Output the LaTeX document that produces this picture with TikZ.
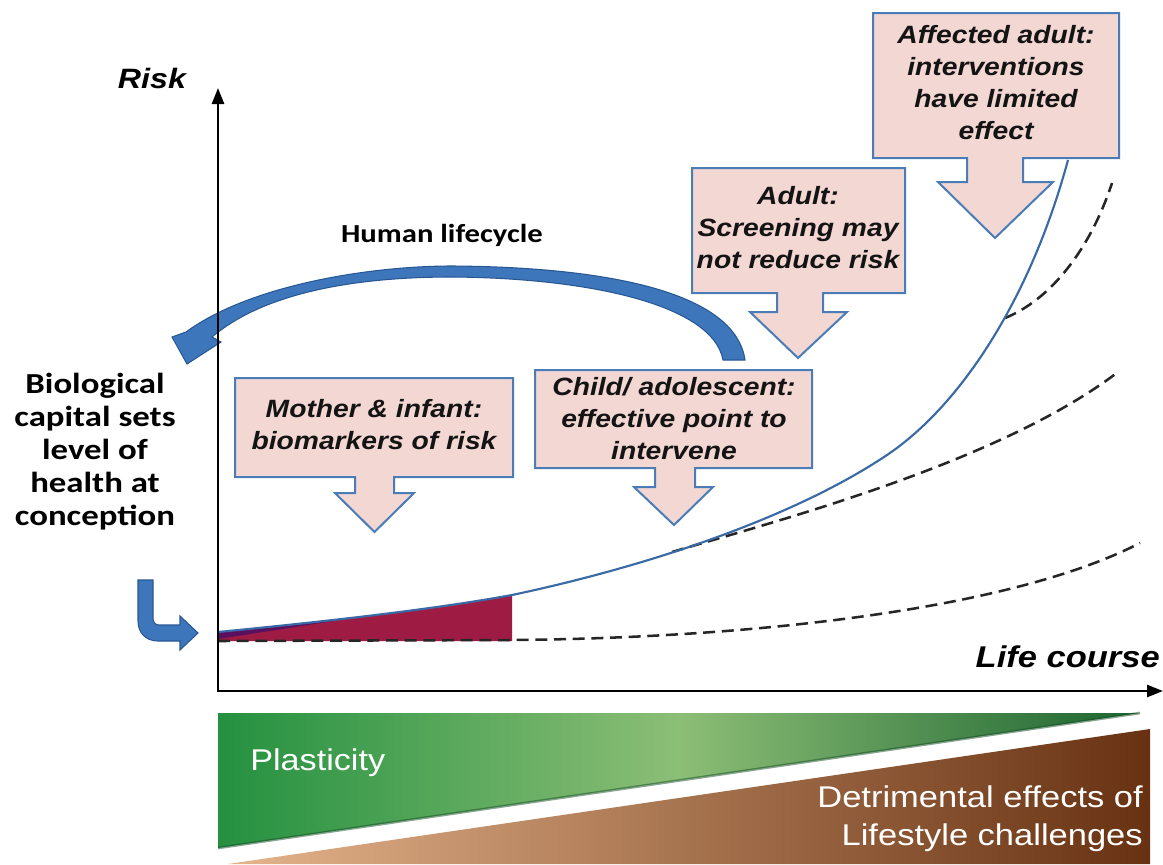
\documentclass[tikz,border=0pt]{standalone}
\usepackage{fontspec}
\setmainfont{Liberation Sans}
\newfontfamily\calfont{Carlito}
\usepackage{graphicx}
\usetikzlibrary{arrows.meta}
\definecolor{boxfill}{RGB}{242,215,211}
\definecolor{boxline}{RGB}{74,124,183}
\definecolor{cycleblue}{RGB}{62,118,188}
\definecolor{cycleedge}{RGB}{40,88,148}
\definecolor{curveblue}{RGB}{58,106,165}
\definecolor{riskred}{RGB}{158,28,68}
\definecolor{gA}{RGB}{36,145,64}
\definecolor{gB}{RGB}{140,190,118}
\definecolor{gC}{RGB}{28,100,48}
\definecolor{bA}{RGB}{228,180,140}
\definecolor{bB}{RGB}{104,50,18}
\newcommand{\sx}[2]{\scalebox{#1}[1]{\begin{tabular}{@{}c@{}}#2\end{tabular}}}
\newcommand{\sxr}[2]{\scalebox{#1}[1]{\begin{tabular}{@{}r@{}}#2\end{tabular}}}
\tikzset{
  callout/.style={fill=boxfill, draw=boxline, line width=1.5pt, line join=miter},
  boxtext/.style={inner sep=0pt, text=black!92, font=\fontsize{18.75}{24}\selectfont\bfseries\itshape},
  axis/.style={line width=1.9pt, -{Triangle[length=12pt,width=9pt]}},
  dashcurve/.style={line width=1.9pt, dash pattern=on 9pt off 5pt, black!85},
  sidetext/.style={inner sep=0pt, font=\calfont\fontsize{21.75}{24.75}\selectfont\bfseries},
}
\begin{document}
\begin{tikzpicture}[x=0.75pt,y=-0.75pt]
\useasboundingbox (0,0) rectangle (1163,864);
\fill[white] (0,0) rectangle (1163,864);

% lower bands
\shade[left color=gA, right color=gC, middle color=gB] (218,713) -- (1140,713) -- (218,848) -- cycle;
\draw[gC!80!black, line width=2pt, opacity=0.5] (1140,713) -- (218,848);
\shade[left color=bA, right color=bB] (228,864) -- (1150,729) -- (1150,864) -- cycle;
\node[anchor=west, inner sep=0pt, text=white, font=\fontsize{22.5}{27}\selectfont] (plast) at (250,763) {\scalebox{1.14}[1]{Plasticity}};
\node[anchor=east, inner sep=0pt, text=white, font=\fontsize{22.5}{28.5}\selectfont] (detr) at (1143,819) {\sxr{1.15}{Detrimental effects of\\Lifestyle challenges}};

% lifecycle arrow
\fill[cycleblue, draw=cycleedge, line width=0.8pt]
  (212,337) -- (221,342) -- (187,364) -- (172,337) -- (186,332)
  .. controls (250,285) and (370,266) .. (452,266)
  .. controls (600,267) and (735,290) .. (745,360)
  -- (723,360)
  .. controls (713,305) and (590,278) .. (452,277)
  .. controls (370,277) and (270,288) .. (212,337) -- cycle;
\node[inner sep=0pt, font=\calfont\fontsize{19.5}{22}\selectfont\bfseries] (cyc) at (442,235) {\scalebox{1.18}[1]{Human lifecycle}};

% L arrow
\fill[cycleblue, draw=cycleedge, line width=0.8pt]
  (138,580) -- (153,580) -- (153,618) .. controls (153,622) and (155,625) .. (159,625)
  -- (180,625) -- (180,616) -- (198,633) -- (180,650) -- (180,641) -- (158,641)
  .. controls (146,641) and (138,633) .. (138,621) -- cycle;
\node[sidetext] (bio) at (95,453) {\sx{1.2}{Biological\\capital sets\\level of\\health at\\conception}};

% maroon wedge
\fill[riskred] (218,632) .. controls (320,622) and (430,610) .. (512,595) -- (512,641) -- (218,641) -- cycle;
\fill[riskred!55!blue!70!black, opacity=0.7] (218,632) .. controls (260,628) and (300,624) .. (340,620) -- (218,639) -- cycle;

% dashed curves
\draw[dashcurve] (218,641) -- (512,640) .. controls (750,638) and (1010,610) .. (1140,543);
\draw[dashcurve] (672,552) .. controls (780,520) and (1000,462) .. (1118,372);
\draw[dashcurve] (1005,318) .. controls (1050,300) and (1090,250) .. (1112,183);

% risk curve
\draw[curveblue, line width=1.6pt] (218,632) .. controls (320,622) and (430,610) .. (512,595)
  .. controls (640,568) and (790,520) .. (887,455)
  .. controls (960,406) and (1030,300) .. (1068,160);

% axes
\coordinate (O) at (218,691);
\draw[axis] (218,692) -- (218,88);
\draw[axis] (217,691) -- (1163,691);
\node[inner sep=0pt, font=\fontsize{21}{24}\selectfont\bfseries\itshape] (risk) at (152,78) {\scalebox{1.15}[1]{Risk}};
\node[anchor=east, inner sep=0pt, font=\fontsize{22.5}{26}\selectfont\bfseries\itshape] (life) at (1160,657) {\scalebox{1.15}[1]{Life course}};

% callouts
\draw[callout] (235,378) -- (513,378) -- (513,477) -- (394,477) -- (394,493) -- (414,493) -- (374.5,532) -- (335,493) -- (355,493) -- (355,477) -- (235,477) -- cycle;
\node[boxtext] (c1) at (374,427) {\sx{1.13}{Mother \& infant:\\biomarkers of risk}};

\draw[callout] (535,370) -- (812,370) -- (812,468) -- (695,468) -- (695,487) -- (713,487) -- (674,525) -- (634,487) -- (655,487) -- (655,468) -- (535,468) -- cycle;
\node[boxtext] (c2) at (674,421) {\sx{1.13}{Child/ adolescent:\\effective point to\\intervene}};

\draw[callout] (692,168) -- (905,168) -- (905,293) -- (823,293) -- (823,312) -- (847,312) -- (798,358) -- (750,312) -- (777,312) -- (777,293) -- (692,293) -- cycle;
\node[boxtext] (c3) at (798,230) {\sx{1.13}{Adult:\\Screening may\\not reduce risk}};

\draw[callout] (873,13) -- (1119,13) -- (1119,158) -- (1023,158) -- (1023,182) -- (1053,182) -- (995,238) -- (938,182) -- (967,182) -- (967,158) -- (873,158) -- cycle;
\node[boxtext] (c4) at (996,85) {\sx{1.13}{Affected adult:\\interventions\\have limited\\effect}};
\end{tikzpicture}
\end{document}
